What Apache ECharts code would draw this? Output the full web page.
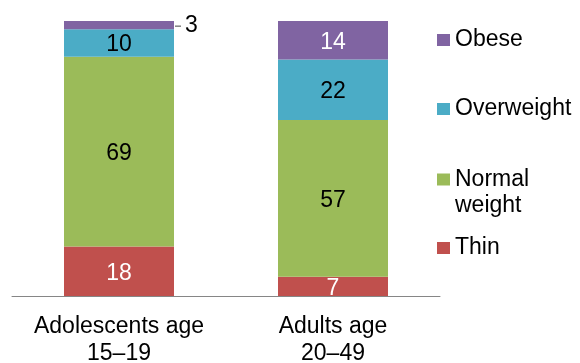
<!DOCTYPE html>
<html>
<head>
<meta charset="utf-8">
<script src="https://cdn.jsdelivr.net/npm/echarts@6/dist/echarts.min.js"></script>
<style>
html,body{margin:0;padding:0;background:#fff;}
#c{width:580px;height:363px;}
</style>
</head>
<body>
<div id="c"></div>
<script>
var categories = ['Adolescents age\n15–19', 'Adults age\n20–49'];
var thin = [18, 7];
var normalWeight = [69, 57];
var overweight = [10, 22];
var obese = [3, 14];

var seriesNames = ['Thin', 'Normal weight', 'Overweight', 'Obese'];
var seriesColors = ['#C0504D', '#9BBB59', '#4BACC6', '#8064A2'];
var labelColors = [['#fff', '#fff'], ['#000', '#000'], ['#000', '#000'], ['#000', '#fff']];

var FONT = '"Liberation Sans", Arial, sans-serif';
var FS = 23;

function makeData(values, si) {
  return values.map(function (v, i) {
    var item = { value: v, label: { color: labelColors[si][i] } };
    if (si === 3 && i === 0) {
      item.label = {
        position: 'right',
        distance: 1,
        offset: [0, 1],
        color: '#000',
        formatter: '{d|}{t|{c}}',
        rich: {
          d: { width: 6, height: 1, backgroundColor: '#404040', verticalAlign: 'middle' },
          t: { fontSize: FS, fontFamily: FONT, color: '#000', padding: [0, 0, 0, 4] }
        }
      };
    }
    return item;
  });
}

var allValues = [thin, normalWeight, overweight, obese];
var series = allValues.map(function (vals, si) {
  return {
    name: seriesNames[si],
    type: 'bar',
    stack: 'total',
    barWidth: 110,
    itemStyle: { color: seriesColors[si] },
    label: { show: true, position: 'inside', offset: [0, 2], fontSize: FS, fontFamily: FONT },
    data: makeData(vals, si)
  };
});

function legendAt(name, top, twoLine) {
  var lg = {
    orient: 'vertical',
    left: 437,
    top: top,
    padding: 0,
    itemWidth: 13,
    itemHeight: 12,
    itemGap: 0,
    selectedMode: false,
    icon: 'rect',
    data: [name],
    textStyle: { fontSize: FS, fontFamily: FONT, color: '#000', lineHeight: 26 }
  };
  if (twoLine) {
    lg.formatter = function () { return ' \nNormal\nweight'; };
  }
  return lg;
}

var chart = echarts.init(document.getElementById('c'), null, { renderer: 'canvas' });
chart.setOption({
  animation: false,
  backgroundColor: '#fff',
  grid: { left: 12, right: 140, top: 21, bottom: 67, containLabel: false, outerBoundsMode: 'none' },
  legend: [
    legendAt('Obese', 27),
    legendAt('Overweight', 96),
    legendAt('Normal weight', 140.5, true),
    legendAt('Thin', 235)
  ],
  xAxis: {
    type: 'category',
    data: categories,
    axisLine: { lineStyle: { color: '#868686', width: 1 } },
    axisTick: { show: false },
    axisLabel: { interval: 0, fontSize: FS, fontFamily: FONT, color: '#000', lineHeight: 27, margin: 17 }
  },
  yAxis: {
    type: 'value',
    min: 0,
    max: 100,
    show: false
  },
  series: series
});
</script>
</body>
</html>
